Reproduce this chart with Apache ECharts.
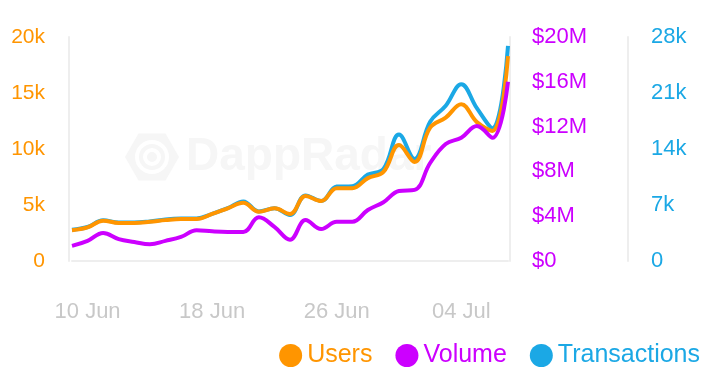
<!DOCTYPE html>
<html>
<head>
<meta charset="utf-8">
<script src="https://cdn.jsdelivr.net/npm/echarts@6/dist/echarts.min.js"></script>
<style>
html,body{margin:0;padding:0;background:#fff;}
#chart{width:720px;height:374px;}
</style>
</head>
<body>
<div id="chart"></div>
<script>
var dates = ['09 Jun','10 Jun','11 Jun','12 Jun','13 Jun','14 Jun','15 Jun','16 Jun','17 Jun','18 Jun','19 Jun','20 Jun','21 Jun','22 Jun','23 Jun','24 Jun','25 Jun','26 Jun','27 Jun','28 Jun','29 Jun','30 Jun','01 Jul','02 Jul','03 Jul','04 Jul','05 Jul','06 Jul','07 Jul'];
var users = [2750,3000,3600,3400,3400,3500,3650,3750,3750,4200,4700,5200,4400,4700,4200,5800,5350,6500,6500,7400,7950,10350,8850,11900,12800,14000,12400,11600,18300];
var volume = [1350000,1800000,2500000,1950000,1700000,1500000,1800000,2150000,2750000,2650000,2600000,2600000,3900000,3050000,1900000,3650000,2850000,3500000,3500000,4550000,5250000,6250000,6350000,8750000,10450000,11000000,12050000,11000000,16000000];
var transactions = [3900,4250,5100,4800,4800,4950,5200,5300,5300,5900,6600,7450,6200,6600,5750,8200,7500,9300,9350,10800,11500,15800,12750,17400,19400,22100,19100,16600,26900];
var seriesNames = ['Users','Volume','Transactions'];
var colors = ['#ff9500','#cc00ff','#1ba8e5'];

var chart = echarts.init(document.getElementById('chart'), null, {renderer:'canvas'});
var font = 'Liberation Sans, Arial, sans-serif';
var axisLineColor = '#eeeeee';

var option = {
  animation: false,
  backgroundColor: '#ffffff',
  grid: {left: 72, right: 212, top: 37, height: 224},
  graphic: [
    {type:'polygon', z:0, shape:{points:(function(){var p=[];for(var k=0;k<6;k++){var a=Math.PI/3*k;p.push([152+27*Math.cos(a),157+27*Math.sin(a)]);}return p;})()}, style:{fill:'#f6f6f6'}},
    {type:'circle', z:0, shape:{cx:152,cy:157,r:15}, style:{fill:'none',stroke:'#ffffff',lineWidth:4}},
    {type:'circle', z:0, shape:{cx:152,cy:157,r:7}, style:{fill:'none',stroke:'#ffffff',lineWidth:4}},
    {type:'text', z:0, left:186, top:134, style:{text:'DappRadar', fill:'#f6f6f6', font:'bold 46px ' + font}}
  ],
  legend: {
    right: 15, top: 338,
    icon: 'circle', itemWidth: 23, itemHeight: 23, itemGap: 23,
    textStyle: {fontSize: 25, fontFamily: font},
    data: seriesNames.map(function(n,i){return {name:n, textStyle:{color:colors[i]}};})
  },
  xAxis: {
    type: 'category', data: dates, boundaryGap: false, offset: 7,
    axisLine: {show:true, lineStyle:{color:axisLineColor, width:2}},
    axisTick: {show:false},
    axisLabel: {
      interval: function(i){return i % 8 === 1;},
      color: '#c8c8c8', fontSize: 22, fontFamily: font, margin: 33
    },
    splitLine: {show:false}
  },
  yAxis: [
    {type:'value', position:'left', min:0, max:20000, interval:5000, offset:3,
     axisLine:{show:true, lineStyle:{color:axisLineColor, width:2}}, axisTick:{show:false}, splitLine:{show:false},
     axisLabel:{color:colors[0], fontSize:21, fontFamily:font, margin:24,
       formatter:function(v){return v===0?'0':(v/1000)+'k';}}},
    {type:'value', position:'right', min:0, max:20000000, interval:4000000, offset:2,
     axisLine:{show:true, lineStyle:{color:axisLineColor, width:2}}, axisTick:{show:false}, splitLine:{show:false},
     axisLabel:{color:colors[1], fontSize:22, fontFamily:font, margin:22,
       formatter:function(v){return v===0?'$0':'$'+(v/1000000)+'M';}}},
    {type:'value', position:'right', min:0, max:28000, interval:7000, offset:120,
     axisLine:{show:true, lineStyle:{color:axisLineColor, width:2}}, axisTick:{show:false}, splitLine:{show:false},
     axisLabel:{color:colors[2], fontSize:22, fontFamily:font, margin:23,
       formatter:function(v){return v===0?'0':(v/1000)+'k';}}}
  ],
  series: [
    {name:'Users', type:'line', yAxisIndex:0, data:users, smooth:0.4, showSymbol:false, z:3,
     lineStyle:{color:colors[0], width:4}, itemStyle:{color:colors[0]}},
    {name:'Volume', type:'line', yAxisIndex:1, data:volume, smooth:0.4, showSymbol:false, z:4,
     lineStyle:{color:colors[1], width:4}, itemStyle:{color:colors[1]}},
    {name:'Transactions', type:'line', yAxisIndex:2, data:transactions, smooth:0.4, showSymbol:false, z:2,
     lineStyle:{color:colors[2], width:4}, itemStyle:{color:colors[2]}}
  ]
};
chart.setOption(option);
</script>
</body>
</html>
